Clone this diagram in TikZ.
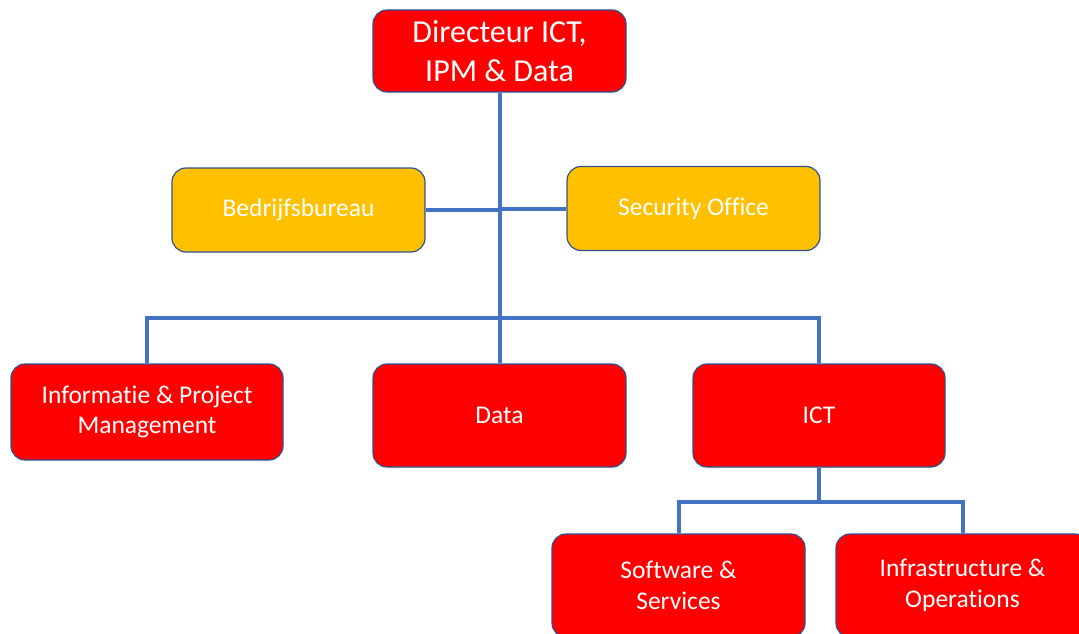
\documentclass[tikz,border=0pt]{standalone}
\usepackage{fontspec}
\setmainfont[Ligatures=NoCommon]{Carlito}
\usepackage{tikz}
\usetikzlibrary{positioning,calc}
\definecolor{boxline}{HTML}{2F528F}
\definecolor{linkblue}{HTML}{4472C4}
\definecolor{unitred}{HTML}{FF0000}
\definecolor{staffyellow}{HTML}{FFC000}
\tikzstyle{unit} = [
  rectangle, draw = boxline, line width = 1.2pt, rounded corners = 14pt,
  fill = unitred, text = white, align = center, font = \fontsize{25.5}{30.5}\selectfont,
  minimum width = 253pt, minimum height = 103pt, inner sep = 0pt
]
\tikzstyle{staff} = [
  unit, fill = staffyellow, minimum height = 84pt
]
\tikzstyle{link} = [draw = linkblue, line width = 4pt]

\begin{document}
\begin{tikzpicture}[x=1pt, y=-1pt]
    \clip (0,0) rectangle (1079,634);
    \fill[white] (0,0) rectangle (1079,634);

    \node[unit, minimum height = 82pt, font = \fontsize{32}{39}\selectfont] (dir) at (499.5,51) {Directeur ICT,\\IPM \& Data};

    \node[staff] (bedrijf) at (298.5,210) {Bedrijfsbureau};
    \node[staff] (security) at (693.5,208.5) {Security Office};

    \node[unit, minimum width = 272pt, minimum height = 96pt] (ipm) at (147,412) {Informatie \& Project\\Management};
    \node[unit] (data) at (499.5,415.5) {Data};
    \node[unit, minimum width = 252pt] (ict) at (819,415.5) {ICT};

    \node[unit] (soft) at (678.5,585.5) {Software \&\\Services};
    \node[unit] (infra) at (962.5,585.5) {Infrastructure \&\\Operations};

    \coordinate (bar) at (499.5,318);
    \coordinate (ictbar) at (819,502);

    \draw[link] (dir.south) -- (data.north);
    \draw[link] (bedrijf.east) -- (bedrijf.east -| dir.south);
    \draw[link] (security.west) -- (security.west -| dir.south);
    \draw[link] (ipm.north) |- (bar) -| (ict.north);

    \draw[link] (ict.south) -- (ictbar);
    \draw[link] (soft.north) |- (ictbar) -| (infra.north);
\end{tikzpicture}
\end{document}
